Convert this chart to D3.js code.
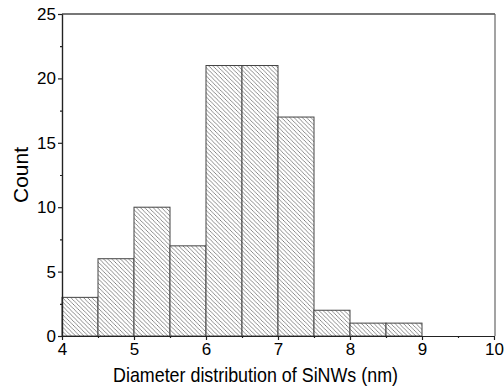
<!DOCTYPE html>
<html><head><meta charset="utf-8">
<script src="https://cdn.jsdelivr.net/npm/d3@7"></script>
<style>body{margin:0;background:#fff}svg{display:block}</style>
</head><body>
<svg id="c" width="504" height="388"></svg>
<script>
const binStart = [4, 4.5, 5, 5.5, 6, 6.5, 7, 7.5, 8, 8.5];
const binWidth = 0.5;
const counts = [3, 6, 10, 7, 21, 21, 17, 2, 1, 1];
const xTicks = [4, 5, 6, 7, 8, 9, 10];
const yTicks = [0, 5, 10, 15, 20, 25];

const svg = d3.select("#c");
const L = 62, R = 494, T = 14, B = 336;
const x = d3.scaleLinear().domain([4, 10]).range([L, R]);
const y = d3.scaleLinear().domain([0, 25]).range([B, T]);
const FONT = "Liberation Sans, Arial, sans-serif";

const defs = svg.append("defs");
const s = 4.2;
const pat = defs.append("pattern").attr("id", "hatch").attr("patternUnits", "userSpaceOnUse")
  .attr("width", s).attr("height", s);
pat.append("rect").attr("width", s).attr("height", s).attr("fill", "#fff");
pat.append("path").attr("d", `M-1,-1 L${s+1},${s+1} M-1,${s-1} L1,${s+1} M${s-1},-1 L${s+1},1`)
  .attr("stroke", "#666").attr("stroke-width", 0.75);

// frame top/right
svg.append("line").attr("x1", L).attr("x2", R + 1).attr("y1", T).attr("y2", T).attr("stroke", "#777").attr("stroke-width", 2);
svg.append("line").attr("x1", R + 1).attr("x2", R + 1).attr("y1", T).attr("y2", B).attr("stroke", "#666").attr("stroke-width", 1.2);

svg.append("g").selectAll("rect").data(counts).join("rect")
  .attr("x", (d, i) => x(binStart[i]))
  .attr("y", d => y(d))
  .attr("width", (d, i) => x(binStart[i] + binWidth) - x(binStart[i]))
  .attr("height", d => y(0) - y(d))
  .attr("fill", "url(#hatch)").attr("stroke", "#444").attr("stroke-width", 1);

const xa = svg.append("g").attr("transform", `translate(0,${B})`)
  .call(d3.axisBottom(x).tickValues(xTicks).tickFormat(d3.format("d")).tickSize(4).tickSizeOuter(0));
const xm = svg.append("g").attr("transform", `translate(0,${B})`)
  .call(d3.axisBottom(x).tickValues(d3.range(4.5, 10, 1)).tickFormat("").tickSize(2).tickSizeOuter(0));
const ya = svg.append("g").attr("transform", `translate(${L},0)`)
  .call(d3.axisLeft(y).tickValues(yTicks).tickSize(4).tickSizeOuter(0));
const ym = svg.append("g").attr("transform", `translate(${L},0)`)
  .call(d3.axisLeft(y).tickValues(d3.range(2.5, 25, 5)).tickFormat("").tickSize(2).tickSizeOuter(0));

[xa, xm, ya, ym].forEach(g => {
  g.selectAll("path,line").attr("stroke", "#222").attr("stroke-width", 1.2);
  g.selectAll("text").attr("fill", "#000").style("font-family", FONT).style("font-size", "17px");
});
xa.selectAll("text").attr("y", 5).attr("dy", "0.8em");
ya.selectAll("text").attr("x", -6);

svg.append("text").attr("x", 113).attr("y", 382)
  .attr("textLength", 285).attr("lengthAdjust", "spacingAndGlyphs")
  .style("font-family", FONT).style("font-size", "21px")
  .text("Diameter distribution of SiNWs (nm)");
svg.append("text").attr("transform", `translate(28,${(T + B) / 2}) rotate(-90)`).attr("text-anchor", "middle")
  .style("font-family", FONT).style("font-size", "21px")
  .text("Count");
</script>
</body></html>
